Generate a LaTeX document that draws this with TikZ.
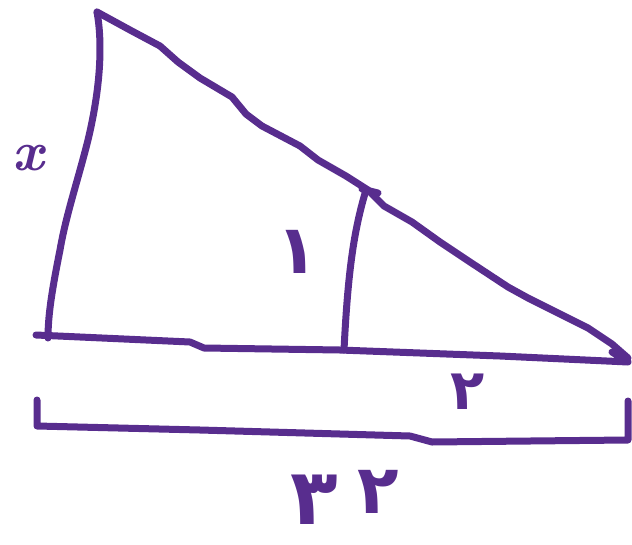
\documentclass[tikz,border=0pt]{standalone}
\usepackage{fontspec}
\newfontfamily\arabicfont[Script=Arabic]{DejaVu Sans}
\definecolor{ink}{RGB}{88,45,142}
\begin{document}
\begin{tikzpicture}[x=1pt,y=-1pt,
  stroke/.style={draw=ink,line width=7pt,line cap=round,line join=round},
  lbl/.style={text=ink,inner sep=0pt},
  ar/.style={lbl,font=\arabicfont\bfseries\fontsize{#1}{#1}\selectfont},
  ar/.default=50]
\useasboundingbox (0,0) rectangle (632,544);
% left side
\draw[stroke] (97,12) .. controls (103,45) and (100,90) .. (88,140)
  .. controls (78,180) and (66,215) .. (60,250) .. controls (52,290) and (48,315) .. (48,338);
% hypotenuse
\draw[stroke] (97,12) -- (130,30) -- (160,46) -- (178,62) -- (200,78) -- (232,97)
  -- (246,114) -- (262,126) -- (300,146) -- (318,160) -- (346,176) -- (368,190)
  -- (384,206) -- (412,222) -- (440,242) -- (470,262) -- (508,287) -- (528,298)
  -- (560,314) -- (588,328) -- (612,344) -- (628,358);
% base
\draw[stroke] (36,335) -- (190,342) -- (204,348) -- (340,350) -- (500,356) -- (628,362) -- (612,352);
% inner vertical
\draw[stroke] (362,189) -- (378,193);
\draw[stroke] (366,190) .. controls (354,230) and (348,270) .. (344,350);
% bracket
\draw[stroke] (37,400) -- (37,426) -- (200,430) -- (410,436) -- (432,442) -- (628,440) -- (628,401);
% labels
\node[lbl,font=\rmfamily\itshape\bfseries\fontsize{56}{56}\selectfont] (x) at (28,158) {x};
\node[ar=68] (one) at (297,252) {۱};
\node[ar=56] (two) at (468,392) {۲};
\node[ar=78] (three) at (314,500) {۳};
\node[ar=68] (twob) at (378,492) {۲};
\end{tikzpicture}
\end{document}
